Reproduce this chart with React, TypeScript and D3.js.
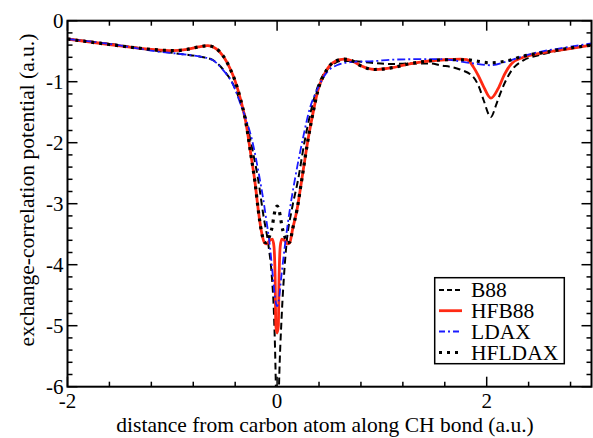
import React from "react";
import * as d3 from "d3";

// ---- data (x in a.u., potential in a.u.) ----
const b88: [number, number][] = [
  [-2, -0.3], [-1.6, -0.38], [-1.12, -0.5], [-0.9, -0.55], [-0.73, -0.59], [-0.62, -0.64],
  [-0.515, -0.8], [-0.42, -1.04], [-0.34, -1.38], [-0.3, -1.6], [-0.25, -2.0], [-0.18, -2.61],
  [-0.13, -3.2], [-0.085, -3.65], [-0.05, -4.2], [-0.03, -4.8], [-0.012, -6.0], [0, -7.5],
  [0.018, -6.0], [0.045, -4.8], [0.065, -4.2], [0.09, -3.65], [0.14, -3.1], [0.2, -2.61],
  [0.26, -2.0], [0.32, -1.5], [0.38, -1.12], [0.45, -0.86], [0.53, -0.72], [0.6, -0.66],
  [0.7, -0.66], [0.9, -0.69], [1.1, -0.71], [1.3, -0.7], [1.45, -0.7], [1.555, -0.73],
  [1.745, -0.8], [1.87, -0.92], [1.93, -1.1], [1.97, -1.3], [2.04, -1.58], [2.09, -1.38],
  [2.13, -1.19], [2.24, -0.81], [2.35, -0.65], [2.51, -0.56], [2.75, -0.47], [3.0, -0.4],
];

const hfb88: [number, number][] = [
  [-2, -0.3], [-1.6, -0.39], [-1.2, -0.47], [-1.0, -0.49], [-0.86, -0.47], [-0.75, -0.43],
  [-0.66, -0.41], [-0.58, -0.46], [-0.51, -0.59], [-0.45, -0.78], [-0.4, -0.99], [-0.35, -1.28],
  [-0.3, -1.65], [-0.25, -2.2], [-0.21, -2.66], [-0.18, -3.1], [-0.15, -3.45], [-0.12, -3.64],
  [-0.1, -3.66], [-0.07, -3.6], [-0.045, -3.58], [-0.03, -3.7], [-0.018, -4.3], [-0.012, -5.0],
  [0, -5.12], [0.012, -5.0], [0.018, -4.3], [0.03, -3.7], [0.045, -3.58], [0.07, -3.6],
  [0.1, -3.66], [0.12, -3.64], [0.15, -3.4], [0.19, -3.1], [0.235, -2.61], [0.3, -1.9],
  [0.35, -1.45], [0.39, -1.14], [0.45, -0.88], [0.505, -0.73], [0.56, -0.66], [0.64, -0.63],
  [0.72, -0.66], [0.8, -0.74], [0.93, -0.8], [1.1, -0.77], [1.25, -0.71], [1.4, -0.67],
  [1.6, -0.64], [1.75, -0.63], [1.81, -0.64], [1.87, -0.75], [1.92, -0.9], [1.97, -1.08],
  [2.04, -1.27], [2.11, -1.11], [2.17, -0.88], [2.24, -0.7], [2.35, -0.6], [2.51, -0.535],
  [2.75, -0.47], [3.0, -0.4],
];

const ldax: [number, number][] = [
  [-2, -0.3], [-1.6, -0.38], [-1.12, -0.51], [-0.9, -0.55], [-0.73, -0.59], [-0.62, -0.64],
  [-0.515, -0.81], [-0.42, -1.05], [-0.34, -1.41], [-0.3, -1.6], [-0.24, -1.95], [-0.17, -2.55],
  [-0.13, -2.95], [-0.1, -3.3], [-0.067, -3.72], [-0.04, -4.2], [-0.015, -4.6], [0, -4.68],
  [0.015, -4.6], [0.04, -4.2], [0.07, -3.75], [0.1, -3.35], [0.13, -3.0], [0.17, -2.6],
  [0.25, -1.9], [0.31, -1.45], [0.38, -1.14], [0.46, -0.88], [0.57, -0.73], [0.7, -0.68],
  [0.95, -0.66], [1.08, -0.64], [1.4, -0.63], [1.555, -0.63], [1.87, -0.7], [2.03, -0.73],
  [2.19, -0.67], [2.35, -0.58], [2.51, -0.51], [2.75, -0.44], [3.0, -0.37],
];

const hfldax: [number, number][] = [
  [-2, -0.3], [-1.6, -0.39], [-1.2, -0.47], [-1.0, -0.49], [-0.86, -0.47], [-0.75, -0.43],
  [-0.66, -0.41], [-0.58, -0.46], [-0.51, -0.59], [-0.45, -0.78], [-0.4, -0.99], [-0.35, -1.28],
  [-0.3, -1.65], [-0.25, -2.2], [-0.21, -2.66], [-0.18, -3.1], [-0.15, -3.45], [-0.12, -3.63],
  [-0.1, -3.64], [-0.07, -3.52], [-0.045, -3.36], [-0.03, -3.2], [-0.018, -3.1], [0, -3.04],
  [0.018, -3.1], [0.03, -3.2], [0.045, -3.36], [0.07, -3.52], [0.1, -3.64], [0.12, -3.63],
  [0.15, -3.4], [0.19, -3.1], [0.235, -2.61], [0.3, -1.9], [0.35, -1.45], [0.39, -1.14],
  [0.45, -0.88], [0.505, -0.73], [0.56, -0.66], [0.64, -0.63], [0.72, -0.66], [0.8, -0.74],
  [0.93, -0.8], [1.1, -0.77], [1.25, -0.71], [1.4, -0.67], [1.6, -0.64], [1.8, -0.64],
  [2.03, -0.69], [2.19, -0.66], [2.35, -0.58], [2.51, -0.53], [2.75, -0.46], [3.0, -0.4],
];

const seriesNames = ["B88", "HFB88", "LDAX", "HFLDAX"];
const xMajorTicks = [-2, 0, 2];
const yMajorTicks = [0, -1, -2, -3, -4, -5, -6];
const xLabel = "distance from carbon atom along CH bond (a.u.)";
const yLabel = "exchange-correlation potential (a.u.)";

const W = 593;
const H = 438;
const L = 67.5, R = 591.5, T = 20.7, B = 386.7;
const FONT = "Liberation Serif, serif";

const styles = [
  { color: "#000", width: 2, dash: "7 4" },
  { color: "#ff2a14", width: 2.8, dash: "" },
  { color: "#1a1aff", width: 1.8, dash: "8 3 2 3" },
  { color: "#000", width: 3.2, dash: "3 5" },
];

export default function App() {
  const x = d3.scaleLinear().domain([-2, 3]).range([L, R]);
  const y = d3.scaleLinear().domain([-6, 0]).range([B, T]);
  const line = d3
    .line<[number, number]>()
    .x((d) => x(d[0]))
    .y((d) => y(d[1]))
    .curve(d3.curveMonotoneX);
  const data = [b88, hfb88, ldax, hfldax];

  const xMinor = d3.range(0, 13).map((i) => -2 + i * 0.4).filter((v) => v < 3);
  const yMinor = d3.range(0, 31).map((i) => -6 + i * 0.2);
  const isMajor = (v: number, arr: number[]) => arr.some((m) => Math.abs(m - v) < 1e-6);

  const legendX = 434.7, legendY = 277.7, legendW = 129.6, legendH = 86;
  const rowY = [290, 310.7, 331.5, 352.5];

  return (
    <svg width={W} height={H} style={{ position: "absolute", left: 0, top: 0, background: "#fff" }}>
      <defs>
        <clipPath id="plot">
          <rect x={L} y={T} width={R - L} height={B - T} />
        </clipPath>
      </defs>
      <rect x={0} y={0} width={W} height={H} fill="#fff" />
      <g clipPath="url(#plot)">
        {data.map((d, i) => (
          <path
            key={i}
            d={line(d) || ""}
            fill="none"
            stroke={styles[i].color}
            strokeWidth={styles[i].width}
            strokeDasharray={styles[i].dash}
            strokeLinejoin="round"
          />
        ))}
      </g>
      <rect x={L} y={T} width={R - L} height={B - T} fill="none" stroke="#000" strokeWidth={2} />
      {xMinor.map((v, i) => {
        const len = isMajor(v, xMajorTicks) ? 10 : 5;
        return (
          <g key={"xt" + i}>
            <line x1={x(v)} x2={x(v)} y1={B} y2={B - len} stroke="#000" strokeWidth={1.5} />
            <line x1={x(v)} x2={x(v)} y1={T} y2={T + len} stroke="#000" strokeWidth={1.5} />
          </g>
        );
      })}
      {yMinor.map((v, i) => {
        const len = isMajor(v, yMajorTicks) ? 10 : 5;
        return (
          <g key={"yt" + i}>
            <line x1={L} x2={L + len} y1={y(v)} y2={y(v)} stroke="#000" strokeWidth={1.5} />
            <line x1={R} x2={R - len} y1={y(v)} y2={y(v)} stroke="#000" strokeWidth={1.5} />
          </g>
        );
      })}
      <g style={{ fontFamily: FONT }} fill="#000">
        {xMajorTicks.map((v) => (
          <text key={"xl" + v} x={x(v)} y={408} textAnchor="middle" fontSize={21}>
            {v}
          </text>
        ))}
        {yMajorTicks.map((v) => (
          <text key={"yl" + v} x={L - 4} y={y(v) + 7} textAnchor="end" fontSize={21}>
            {v}
          </text>
        ))}
        <text x={325} y={432} textAnchor="middle" fontSize={21.5}>
          {xLabel}
        </text>
        <text transform={`translate(34, 190) rotate(-90)`} textAnchor="middle" fontSize={21.5}>
          {yLabel}
        </text>
      </g>
      <rect x={legendX} y={legendY} width={legendW} height={legendH} fill="#fff" stroke="#000" strokeWidth={1.5} />
      {seriesNames.map((n, i) => (
        <g key={n}>
          <line
            x1={439}
            x2={462}
            y1={rowY[i]}
            y2={rowY[i]}
            stroke={styles[i].color}
            strokeWidth={styles[i].width}
            strokeDasharray={i === 0 ? "5 3" : i === 2 ? "6 3 2 3" : i === 3 ? "3 5" : ""}
          />
          <text x={471} y={rowY[i] + 7} style={{ fontFamily: FONT }} fontSize={21.5}>
            {n}
          </text>
        </g>
      ))}
    </svg>
  );
}
